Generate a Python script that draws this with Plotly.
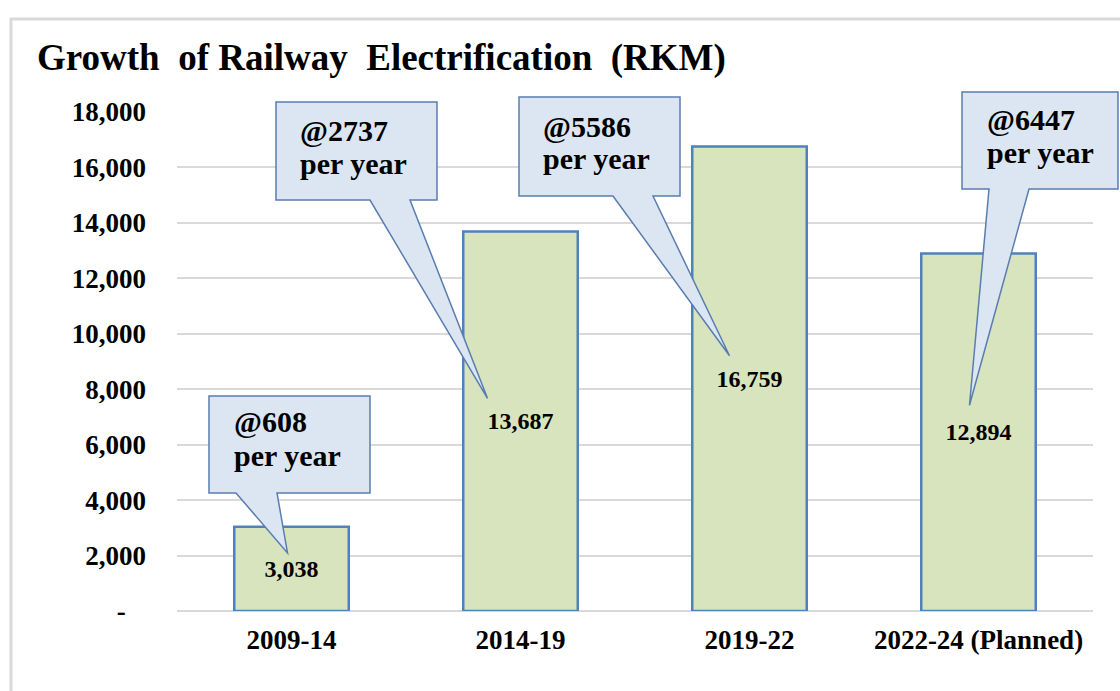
import plotly.graph_objects as go

# ---- data ----
categories = ["2009-14", "2014-19", "2019-22", "2022-24 (Planned)"]
rkm_values = [3038, 13687, 16759, 12894]
rate_labels = ["@608", "@2737", "@5586", "@6447"]
rate_suffix = "per year"
y_tickvals = [0, 2000, 4000, 6000, 8000, 10000, 12000, 14000, 16000, 18000]
y_ticktext = ["-\u00a0\u00a0\u00a0", "2,000", "4,000", "6,000", "8,000", "10,000",
              "12,000", "14,000", "16,000", "18,000"]
title_text = "Growth\u00a0\u00a0of\u00a0Railway\u00a0\u00a0Electrification\u00a0\u00a0(RKM)"

# ---- layout geometry (pixels) ----
FW, FH = 1120, 691
L, R, T, B = 177, 1093, 112, 611
PW, PH = R - L, B - T
YMAX = 18000
SERIF = "Liberation Serif, Times New Roman, serif"

def px_x(px):
    return (px - L) / PW

def px_y(py):
    return (B - py) / PH

def data_x(i):
    return (i + 0.5) / len(categories)

def data_y(v):
    return v / YMAX

# callout styling/geometry: box (x0, x1, y0, y1) in px, tail base x pair, tip offset
callouts = [
    dict(box=(209, 370, 396, 493), base=(236, 277), tip_dx=-4, tip_dy=16, tx=232, l1=421, l2=455),
    dict(box=(276, 437, 102, 200), base=(370, 410), tip_dx=-33, tip_dy=23, tx=298, l1=130, l2=163),
    dict(box=(519, 680, 97, 196), base=(613, 653), tip_dx=-20, tip_dy=23, tx=541, l1=126, l2=158),
    dict(box=(962, 1118, 92, 189), base=(989, 1029), tip_dx=-9, tip_dy=27, tx=985, l1=119, l2=152),
]

fig = go.Figure()
fig.add_trace(go.Bar(
    x=categories, y=rkm_values,
    marker=dict(color="#d7e4bd", line=dict(color="#4f81bd", width=2.5)),
    text=[f"{v:,}" for v in rkm_values],
    textposition="inside", insidetextanchor="middle",
    textfont=dict(family=SERIF, size=24, color="#000000", weight="bold"),
    textangle=0, hoverinfo="skip",
))

shapes = []
# outer frame
shapes.append(dict(type="rect", xref="paper", yref="paper",
                   x0=px_x(11), x1=px_x(1130), y0=px_y(19), y1=px_y(700),
                   line=dict(color="#d9d9d9", width=3), fillcolor="rgba(0,0,0,0)", layer="below"))

annotations = []
for i, c in enumerate(callouts):
    x0, x1, y0, y1 = c["box"]
    bx0, bx1 = c["base"]
    # tip anchored to bar label position (value/2)
    tip_px_x = L + data_x(i) * PW + c["tip_dx"]
    tip_px_y = B - data_y(rkm_values[i] / 2) * PH - c["tip_dy"]
    pts = [(x0, y0), (x1, y0), (x1, y1), (bx1, y1), (tip_px_x, tip_px_y), (bx0, y1), (x0, y1)]
    path = "M " + " L ".join(f"{px_x(a):.5f},{px_y(b):.5f}" for a, b in pts) + " Z"
    shapes.append(dict(type="path", xref="paper", yref="paper", path=path,
                       fillcolor="#dce6f2", line=dict(color="#5a7db0", width=1.5), layer="above"))
    annotations.append(dict(xref="paper", yref="paper", x=px_x(c["tx"]), y=px_y(c["l1"]),
                            xanchor="left", yanchor="middle", showarrow=False,
                            text=rate_labels[i],
                            font=dict(family=SERIF, size=30, color="#000000", weight="bold")))
    annotations.append(dict(xref="paper", yref="paper", x=px_x(c["tx"]), y=px_y(c["l2"]),
                            xanchor="left", yanchor="middle", showarrow=False,
                            text=rate_suffix,
                            font=dict(family=SERIF, size=30, color="#000000", weight="bold")))

fig.update_layout(
    width=FW, height=FH,
    margin=dict(l=L, r=FW - R, t=T, b=FH - B, autoexpand=False),
    paper_bgcolor="white", plot_bgcolor="white",
    showlegend=False, bargap=0.5,
    title=dict(text=title_text, xref="container", yref="container",
               x=37 / FW, xanchor="left", y=1 - 57 / FH, yanchor="middle",
               font=dict(family=SERIF, size=37, color="#000000", weight="bold")),
    xaxis=dict(type="category", showgrid=False, showline=False, zeroline=False,
               ticks="", ticklabelstandoff=10,
               tickfont=dict(family=SERIF, size=27, color="#000000", weight="bold")),
    yaxis=dict(range=[0, YMAX], tickvals=y_tickvals, ticktext=y_ticktext,
               showgrid=True, gridcolor="#d9d9d9", gridwidth=1.5,
               zeroline=True, zerolinecolor="#d9d9d9", zerolinewidth=1.5,
               showline=False, ticks="", ticklabelstandoff=30,
               tickfont=dict(family=SERIF, size=27, color="#000000", weight="bold")),
    shapes=shapes, annotations=annotations,
)

fig.write_html("out.html", config={"displayModeBar": False},
               post_script="document.body.style.margin='0';")
